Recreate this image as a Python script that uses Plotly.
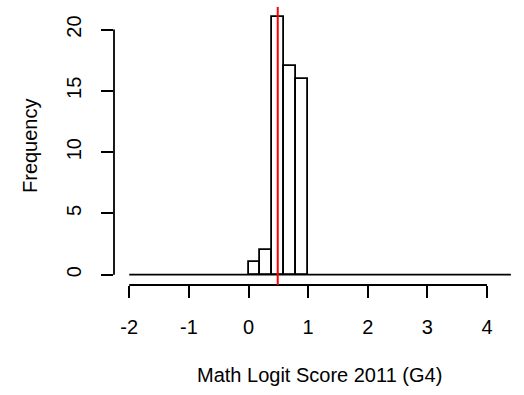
import plotly.graph_objects as go

# Histogram of math logit scores (bin width 0.2)
bin_left = [0.0, 0.2, 0.4, 0.6, 0.8]
bin_width = 0.2
counts = [1, 2, 21, 17, 16]
break_span = [-2.0, 4.4]      # full range of the histogram breaks (empty bins elsewhere)
mean_score = 0.49             # reference line

x_ticks = [-2, -1, 0, 1, 2, 3, 4]
y_ticks = [0, 5, 10, 15, 20]

FONT = "Liberation Sans, Arial, sans-serif"
FS = 20
LW = 1.8

fig = go.Figure()

# empty bins collapse to a flat line along zero
fig.add_trace(go.Scatter(
    x=break_span, y=[0, 0], mode="lines",
    line=dict(color="black", width=LW), hoverinfo="skip", showlegend=False,
))

fig.add_trace(go.Bar(
    x=[b + bin_width / 2 for b in bin_left], y=counts, width=bin_width,
    marker=dict(color="white", line=dict(color="black", width=LW)),
    showlegend=False,
))

# axis lines spanning only the tick range, as in base R graphics
fig.add_shape(type="line", xref="x", yref="paper",
              x0=x_ticks[0], x1=x_ticks[-1], y0=0, y1=0,
              line=dict(color="black", width=LW))
fig.add_shape(type="line", xref="paper", yref="y",
              x0=0, x1=0, y0=y_ticks[0], y1=y_ticks[-1],
              line=dict(color="black", width=LW))

# vertical marker line
fig.add_shape(type="line", xref="x", yref="paper",
              x0=mean_score, x1=mean_score, y0=0, y1=1,
              line=dict(color="red", width=2))

# axis titles
fig.add_annotation(text="Math Logit Score 2011 (G4)", xref="paper", yref="paper",
                   x=0.5, y=0, xanchor="center", yanchor="middle", yshift=-90,
                   showarrow=False, font=dict(family=FONT, size=FS, color="black"))
fig.add_annotation(text="Frequency", xref="paper", yref="paper",
                   x=0, y=0.5, xanchor="center", yanchor="middle", xshift=-84,
                   textangle=-90, showarrow=False,
                   font=dict(family=FONT, size=FS, color="black"))

ymax = max(counts)
fig.update_layout(
    width=524, height=395,
    margin=dict(l=114, r=0, t=7, b=110),
    paper_bgcolor="white", plot_bgcolor="white",
    font=dict(family=FONT, size=FS, color="black"),
    bargap=0,
    xaxis=dict(
        range=[-2.256, 4.62], tickvals=x_ticks, ticktext=[str(v) for v in x_ticks],
        ticks="outside", ticklen=12, tickwidth=LW, tickcolor="black",
        tickfont=dict(family=FONT, size=FS, color="black"),
        ticklabelstandoff=12,
        showgrid=False, zeroline=False, showline=False,
    ),
    yaxis=dict(
        range=[-0.04 * ymax, 1.04 * ymax], tickvals=y_ticks,
        ticks="outside", ticklen=12, tickwidth=LW, tickcolor="black",
        tickfont=dict(family=FONT, size=FS, color="black"),
        tickangle=-90, ticklabelstandoff=12,
        showgrid=False, zeroline=False, showline=False,
    ),
)

fig.write_html("out.html")
